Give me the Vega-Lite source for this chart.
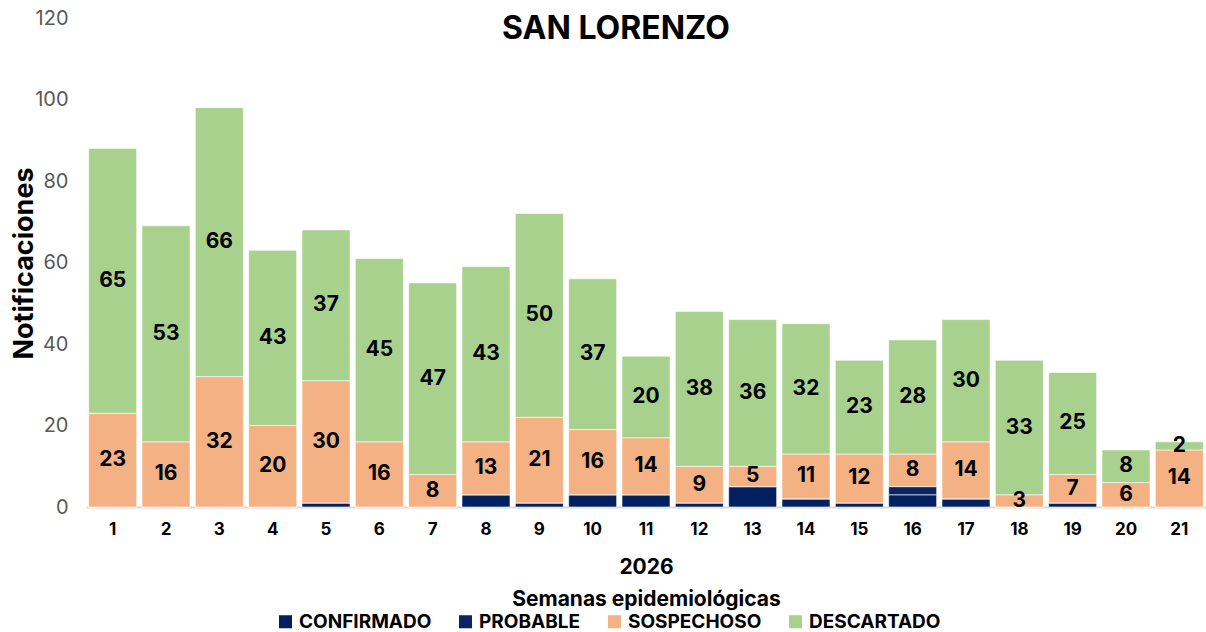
{
  "$schema": "https://vega.github.io/schema/vega-lite/v6.json",
  "width": 1120,
  "height": 489,
  "autosize": {"type": "none"},
  "padding": {"left": 86, "top": 18, "right": 0, "bottom": 125},
  "background": "#ffffff",
  "config": {
    "font": "Inter",
    "view": {"stroke": null}
  },
  "title": {
    "text": "SAN LORENZO",
    "fontSize": 32,
    "fontWeight": "bold",
    "color": "#000000",
    "offset": -38,
    "dx": -30,
    "anchor": "middle"
  },
  "data": {
    "values": [
      {"week": 1, "cat": "CONFIRMADO", "o": 1, "v": 0}, {"week": 1, "cat": "PROBABLE", "o": 2, "v": 0}, {"week": 1, "cat": "SOSPECHOSO", "o": 3, "v": 23}, {"week": 1, "cat": "DESCARTADO", "o": 4, "v": 65},
      {"week": 2, "cat": "CONFIRMADO", "o": 1, "v": 0}, {"week": 2, "cat": "PROBABLE", "o": 2, "v": 0}, {"week": 2, "cat": "SOSPECHOSO", "o": 3, "v": 16}, {"week": 2, "cat": "DESCARTADO", "o": 4, "v": 53},
      {"week": 3, "cat": "CONFIRMADO", "o": 1, "v": 0}, {"week": 3, "cat": "PROBABLE", "o": 2, "v": 0}, {"week": 3, "cat": "SOSPECHOSO", "o": 3, "v": 32}, {"week": 3, "cat": "DESCARTADO", "o": 4, "v": 66},
      {"week": 4, "cat": "CONFIRMADO", "o": 1, "v": 0}, {"week": 4, "cat": "PROBABLE", "o": 2, "v": 0}, {"week": 4, "cat": "SOSPECHOSO", "o": 3, "v": 20}, {"week": 4, "cat": "DESCARTADO", "o": 4, "v": 43},
      {"week": 5, "cat": "CONFIRMADO", "o": 1, "v": 1}, {"week": 5, "cat": "PROBABLE", "o": 2, "v": 0}, {"week": 5, "cat": "SOSPECHOSO", "o": 3, "v": 30}, {"week": 5, "cat": "DESCARTADO", "o": 4, "v": 37},
      {"week": 6, "cat": "CONFIRMADO", "o": 1, "v": 0}, {"week": 6, "cat": "PROBABLE", "o": 2, "v": 0}, {"week": 6, "cat": "SOSPECHOSO", "o": 3, "v": 16}, {"week": 6, "cat": "DESCARTADO", "o": 4, "v": 45},
      {"week": 7, "cat": "CONFIRMADO", "o": 1, "v": 0}, {"week": 7, "cat": "PROBABLE", "o": 2, "v": 0}, {"week": 7, "cat": "SOSPECHOSO", "o": 3, "v": 8}, {"week": 7, "cat": "DESCARTADO", "o": 4, "v": 47},
      {"week": 8, "cat": "CONFIRMADO", "o": 1, "v": 3}, {"week": 8, "cat": "PROBABLE", "o": 2, "v": 0}, {"week": 8, "cat": "SOSPECHOSO", "o": 3, "v": 13}, {"week": 8, "cat": "DESCARTADO", "o": 4, "v": 43},
      {"week": 9, "cat": "CONFIRMADO", "o": 1, "v": 1}, {"week": 9, "cat": "PROBABLE", "o": 2, "v": 0}, {"week": 9, "cat": "SOSPECHOSO", "o": 3, "v": 21}, {"week": 9, "cat": "DESCARTADO", "o": 4, "v": 50},
      {"week": 10, "cat": "CONFIRMADO", "o": 1, "v": 3}, {"week": 10, "cat": "PROBABLE", "o": 2, "v": 0}, {"week": 10, "cat": "SOSPECHOSO", "o": 3, "v": 16}, {"week": 10, "cat": "DESCARTADO", "o": 4, "v": 37},
      {"week": 11, "cat": "CONFIRMADO", "o": 1, "v": 3}, {"week": 11, "cat": "PROBABLE", "o": 2, "v": 0}, {"week": 11, "cat": "SOSPECHOSO", "o": 3, "v": 14}, {"week": 11, "cat": "DESCARTADO", "o": 4, "v": 20},
      {"week": 12, "cat": "CONFIRMADO", "o": 1, "v": 1}, {"week": 12, "cat": "PROBABLE", "o": 2, "v": 0}, {"week": 12, "cat": "SOSPECHOSO", "o": 3, "v": 9}, {"week": 12, "cat": "DESCARTADO", "o": 4, "v": 38},
      {"week": 13, "cat": "CONFIRMADO", "o": 1, "v": 5}, {"week": 13, "cat": "PROBABLE", "o": 2, "v": 0}, {"week": 13, "cat": "SOSPECHOSO", "o": 3, "v": 5}, {"week": 13, "cat": "DESCARTADO", "o": 4, "v": 36},
      {"week": 14, "cat": "CONFIRMADO", "o": 1, "v": 2}, {"week": 14, "cat": "PROBABLE", "o": 2, "v": 0}, {"week": 14, "cat": "SOSPECHOSO", "o": 3, "v": 11}, {"week": 14, "cat": "DESCARTADO", "o": 4, "v": 32},
      {"week": 15, "cat": "CONFIRMADO", "o": 1, "v": 1}, {"week": 15, "cat": "PROBABLE", "o": 2, "v": 0}, {"week": 15, "cat": "SOSPECHOSO", "o": 3, "v": 12}, {"week": 15, "cat": "DESCARTADO", "o": 4, "v": 23},
      {"week": 16, "cat": "CONFIRMADO", "o": 1, "v": 3}, {"week": 16, "cat": "PROBABLE", "o": 2, "v": 2}, {"week": 16, "cat": "SOSPECHOSO", "o": 3, "v": 8}, {"week": 16, "cat": "DESCARTADO", "o": 4, "v": 28},
      {"week": 17, "cat": "CONFIRMADO", "o": 1, "v": 2}, {"week": 17, "cat": "PROBABLE", "o": 2, "v": 0}, {"week": 17, "cat": "SOSPECHOSO", "o": 3, "v": 14}, {"week": 17, "cat": "DESCARTADO", "o": 4, "v": 30},
      {"week": 18, "cat": "CONFIRMADO", "o": 1, "v": 0}, {"week": 18, "cat": "PROBABLE", "o": 2, "v": 0}, {"week": 18, "cat": "SOSPECHOSO", "o": 3, "v": 3}, {"week": 18, "cat": "DESCARTADO", "o": 4, "v": 33},
      {"week": 19, "cat": "CONFIRMADO", "o": 1, "v": 1}, {"week": 19, "cat": "PROBABLE", "o": 2, "v": 0}, {"week": 19, "cat": "SOSPECHOSO", "o": 3, "v": 7}, {"week": 19, "cat": "DESCARTADO", "o": 4, "v": 25},
      {"week": 20, "cat": "CONFIRMADO", "o": 1, "v": 0}, {"week": 20, "cat": "PROBABLE", "o": 2, "v": 0}, {"week": 20, "cat": "SOSPECHOSO", "o": 3, "v": 6}, {"week": 20, "cat": "DESCARTADO", "o": 4, "v": 8},
      {"week": 21, "cat": "CONFIRMADO", "o": 1, "v": 0}, {"week": 21, "cat": "PROBABLE", "o": 2, "v": 0}, {"week": 21, "cat": "SOSPECHOSO", "o": 3, "v": 14}, {"week": 21, "cat": "DESCARTADO", "o": 4, "v": 2}
    ]
  },
  "transform": [
    {"stack": "v", "groupby": ["week"], "sort": [{"field": "o"}], "as": ["v0", "v1"]},
    {"calculate": "(datum.v0 + datum.v1) / 2", "as": "mid"}
  ],
  "encoding": {
    "x": {
      "field": "week",
      "type": "ordinal",
      "scale": {"paddingInner": 0.1, "paddingOuter": 0.05},
      "axis": {
        "labelAngle": 0,
        "labelFontSize": 17,
        "labelFontWeight": "bold",
        "labelColor": "#000000",
        "labelPadding": 14,
        "ticks": false,
        "domainColor": "#d9d9d9",
        "domainWidth": 2,
        "title": ["2026", "Semanas epidemiológicas"],
        "titleFontSize": 21,
        "titleFontWeight": "bold",
        "titleColor": "#000000",
        "titleLineHeight": 32,
        "titlePadding": 19
      }
    }
  },
  "layer": [
    {
      "mark": {"type": "bar", "stroke": "#ffffff", "strokeWidth": 0.6},
      "encoding": {
        "y": {
          "field": "v1",
          "type": "quantitative",
          "scale": {"domain": [0, 120]},
          "axis": {
            "values": [0, 20, 40, 60, 80, 100, 120],
            "grid": false,
            "domain": false,
            "ticks": false,
            "labelFontSize": 20,
            "labelColor": "#595959",
            "labelPadding": 18,
            "title": "Notificaciones",
            "titleFontSize": 27,
            "titleFontWeight": "bold",
            "titleColor": "#000000",
            "titleX": -48,
            "titleY": 245
          }
        },
        "y2": {"field": "v0"},
        "color": {
          "field": "cat",
          "type": "nominal",
          "sort": ["CONFIRMADO", "PROBABLE", "SOSPECHOSO", "DESCARTADO"],
          "scale": {
            "domain": ["CONFIRMADO", "PROBABLE", "SOSPECHOSO", "DESCARTADO"],
            "range": ["#002060", "#0a2466", "#F4B183", "#A9D18E"]
          },
          "legend": {
            "orient": "none",
            "legendX": 190,
            "legendY": 594,
            "direction": "horizontal",
            "title": null,
            "symbolType": "square",
            "symbolSize": 170,
            "symbolStrokeWidth": 0,
            "labelFontSize": 19,
            "labelFontWeight": "bold",
            "labelColor": "#000000",
            "columnPadding": 24,
            "labelLimit": 300
          }
        },
        "order": {"field": "o"}
      }
    },
    {
      "transform": [{"filter": "datum.o >= 3 && datum.v > 0"}],
      "mark": {"type": "text", "fontSize": 21, "fontWeight": "bold", "color": "#000000", "baseline": "middle"},
      "encoding": {
        "y": {"field": "mid", "type": "quantitative"},
        "text": {"field": "v", "type": "quantitative"}
      }
    }
  ]
}
